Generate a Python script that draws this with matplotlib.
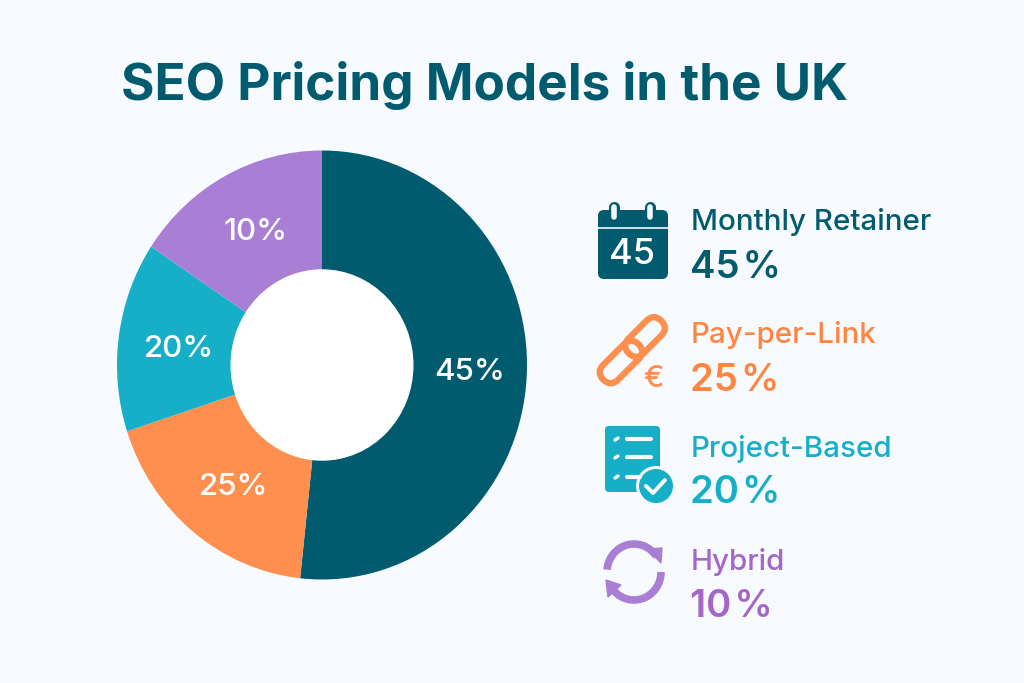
import numpy as np
import matplotlib
matplotlib.use("Agg")
import matplotlib.pyplot as plt
from matplotlib.patches import Circle, FancyBboxPatch, Polygon, Arc
from matplotlib.transforms import Affine2D

plt.rcParams['font.family'] = ['Inter', 'DejaVu Sans']

# the slices as drawn do not follow the printed percentages, so keep both
categories = ["Monthly Retainer", "Pay-per-Link", "Project-Based", "Hybrid"]
drawn_shares = [51.7, 18.3, 14.3, 15.7]
printed_pct = [45, 25, 20, 10]

TEAL = "#005B6E"
ORANGE = "#FF8F4F"
BLUE = "#17AEC8"
PURPLE = "#A97FD6"
wedge_colors = [TEAL, ORANGE, BLUE, PURPLE]
text_colors = ["#005B6E", "#FF8540", "#17AEC8", "#A566C8"]
BG = "#F7FBFF"

fig = plt.figure(figsize=(10.24, 6.83), dpi=100, facecolor=BG)

# donut
pie_ax = fig.add_axes([117 / 1024, (683 - 579.5) / 683, 410 / 1024, 429 / 683])
wedges, texts = pie_ax.pie(
    drawn_shares, colors=wedge_colors, startangle=90, counterclock=False,
    labels=[f"{p}%" for p in printed_pct], labeldistance=0.72,
    textprops=dict(color="white", fontsize=22.5, fontweight="medium"),
)
# small per-label nudges, in pie axes units
nudges = [(0.0, 0.012), (0.025, 0.0), (0.015, -0.013), (0.015, -0.005)]
for t, (dx, dy) in zip(texts, nudges):
    t.set_ha("center")
    t.set_va("center")
    x, y = t.get_position()
    t.set_position((x + dx, y + dy - 0.008))
pie_ax.add_patch(Circle((0, 0), 0.443, color="white", zorder=5))
pie_ax.set_aspect("auto")
pie_ax.set_xlim(-1, 1)
pie_ax.set_ylim(-1, 1)

# overlay in pixel coordinates for title, legend and icons
ax = fig.add_axes([0, 0, 1, 1], facecolor="none")
ax.set_xlim(0, 1024)
ax.set_ylim(683, 0)
ax.axis("off")

ax.text(121, 100, "SEO Pricing Models in the UK", color=TEAL, fontsize=36.9,
        fontweight="bold", ha="left", va="baseline")

label_y = [230, 343, 457, 570]
pct_y = [278, 391, 503, 617]
for name, p, c, ly, py in zip(categories, printed_pct, text_colors, label_y, pct_y):
    ax.text(691, ly, name, color=c, fontsize=21.3, fontweight="medium", ha="left", va="baseline")
    ax.text(690, py, f"{p}\u200a%", color=c, fontsize=27.5, fontweight="semibold", ha="left", va="baseline")


# calendar
ax.add_patch(FancyBboxPatch((601, 213), 64, 63, boxstyle="round,pad=3,rounding_size=6", fc=TEAL, ec="none"))
ax.plot([598, 668], [228, 228], color=BG, lw=1.2)
for x in (614, 650):
    ax.plot([x, x], [207, 217], color=TEAL, lw=8, solid_capstyle="round")
    ax.plot([x, x], [207, 217], color=BG, lw=4, solid_capstyle="round")
ax.text(632, 254, "45", color="white", fontsize=26, fontweight="medium", ha="center", va="center")


# chain
def link(cx, cy, length, thick):
    rot = Affine2D().rotate_deg_around(cx, cy, -45) + ax.transData
    ax.add_patch(FancyBboxPatch((cx - length / 2, cy - thick / 2), length, thick,
                                boxstyle=f"round,pad=0,rounding_size={thick / 2}",
                                fc="none", ec=ORANGE, lw=4.6, transform=rot))


link(645, 337, 46, 21)
link(621, 362, 50, 21)
ax.text(653, 379, "€", color=ORANGE, fontsize=22, fontweight="medium", ha="center", va="center")

# checklist
ax.add_patch(FancyBboxPatch((608, 429), 49, 60, boxstyle="round,pad=3,rounding_size=4", fc=BLUE, ec="none"))
for y in (439, 457, 477):
    ax.plot([627, 651 if y < 470 else 640], [y, y], color="white", lw=3, solid_capstyle="round")
    ax.plot([615, 618], [y + 1, y - 1], color="white", lw=2.4, solid_capstyle="round")
ax.add_patch(Circle((656, 486), 20, fc=BG, ec="none"))
ax.add_patch(Circle((656, 486), 17, fc=BLUE, ec="none"))
ax.plot([646, 653, 665], [486, 493, 480], color="white", lw=2.8, solid_capstyle="round")

# hybrid arrows (y axis is flipped, so arc angles run clockwise on screen)
ax.add_patch(Arc((634, 572), 54, 56, theta1=185, theta2=325, color=PURPLE, lw=5.5))
ax.add_patch(Arc((634, 572), 54, 56, theta1=0, theta2=145, color=PURPLE, lw=5.5))
ax.add_patch(Polygon([[647, 549], [662, 548], [661, 563]], fc=PURPLE, ec=PURPLE, lw=1))
ax.add_patch(Polygon([[606, 580], [621, 585], [608, 597]], fc=PURPLE, ec=PURPLE, lw=1))

fig.savefig("out.png", dpi=100, facecolor=BG)
